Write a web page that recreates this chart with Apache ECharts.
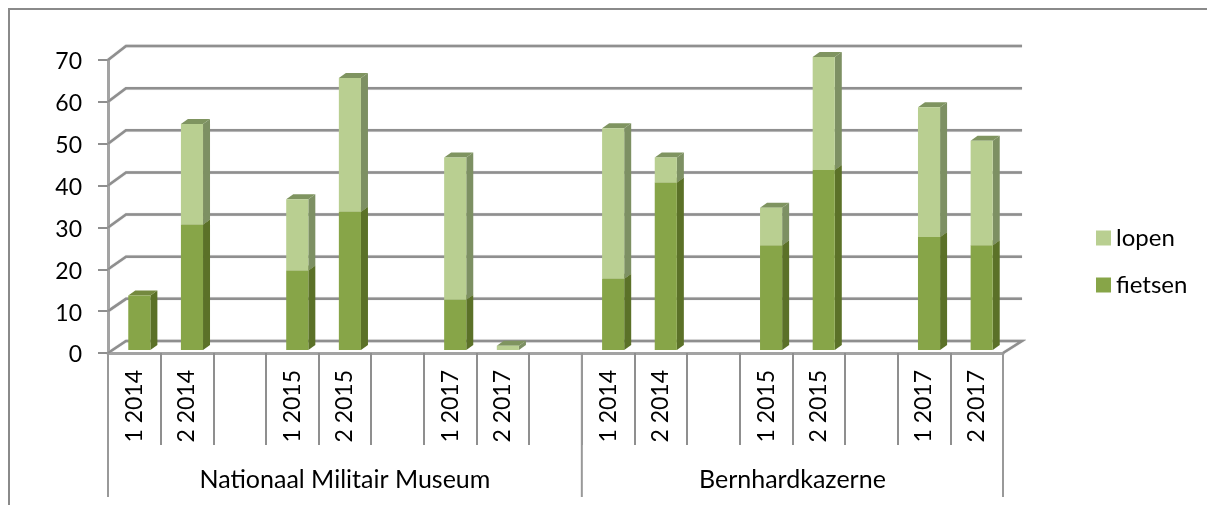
<html lang="nl">
<head>
<meta charset="UTF-8">
<title>lopen en fietsen</title>
<script src="https://cdn.jsdelivr.net/npm/echarts@6/dist/echarts.min.js"></script>
<style>
html,body{margin:0;padding:0;background:#fff;}
</style>
</head>
<body>
<div id="main" style="width:1207px;height:505px;"></div>
<script type="text/javascript">
var categories = ['1 2014','2 2014','','1 2015','2 2015','','1 2017','2 2017','','1 2014','2 2014','','1 2015','2 2015','','1 2017','2 2017'];
var fietsen = [13,30,null,19,33,null,12,0,null,17,40,null,25,43,null,27,25];
var lopen = [0,24,null,17,32,null,34,1,null,36,6,null,9,27,null,31,25];
var groupNames = ['Nationaal Militair Museum','Bernhardkazerne'];
var groupStart = [0,9];
var groupEnd = [8,16];
var yTicks = [0,10,20,30,40,50,60,70];

var FONT = 'Lato';
var GREY = '#8f8f8f';

// stacked segments: [category index, from, to]
var fietsenData = [];
var lopenData = [];
categories.forEach(function(c,i){
	if(fietsen[i]===null) return;
	fietsenData.push([i,0,fietsen[i]]);
	lopenData.push([i,fietsen[i],fietsen[i]+lopen[i]]);
});

// fake 3d column, front face + side + top
function barRender(front,side,top){
	return function(params,api){
		var from = api.value(1), to = api.value(2);
		if(from===to) return null;
		var a = api.coord([api.value(0),from]);
		var b = api.coord([api.value(0),to]);
		var w = api.size([1,0])[0]*0.42;
		var x = a[0]+5-w/2, y0 = a[1]-3, y1 = b[1]-3;
		var d = 7, h = 5;
		return {type:'group',children:[
			{type:'polygon',shape:{points:[[x+w,y0],[x+w+d,y0-h],[x+w+d,y1-h],[x+w,y1]]},style:{fill:side}},
			{type:'polygon',shape:{points:[[x,y1],[x+d,y1-h],[x+w+d,y1-h],[x+w,y1]]},style:{fill:top}},
			{type:'rect',shape:{x:x,y:y1,width:w,height:y0-y1},style:{fill:front}}
		]};
	};
}

// gridlines on the back wall with the diagonal on the side wall
function wallRender(params,api){
	var v = api.value(1);
	var half = api.size([1,0])[0]/2;
	var p = api.coord([0,v]);
	var last = api.coord([categories.length-1,v]);
	var xl = p[0]-half, xr = last[0]+half;
	var dy = 12+v/35;
	var pts = [[xl,p[1]],[xl+18,p[1]-dy],[xr+19,p[1]-dy]];
	if(v===0) pts.push([xr,p[1]]);
	return {type:'polyline',shape:{points:pts},style:{fill:null,stroke:GREY,lineWidth:2.5,shadowBlur:1,shadowColor:'#bbb'}};
}

// lower level of the category axis
function groupRender(params,api){
	var half = api.size([1,0])[0]/2;
	var a = api.coord([api.value(0),0]);
	var b = api.coord([api.value(1),0]);
	var xl = a[0]-half, xr = b[0]+half, y = a[1];
	var kids = [
		{type:'line',shape:{x1:xl,y1:y,x2:xl,y2:y+144},style:{stroke:'#999',lineWidth:2}},
		{type:'text',style:{text:groupNames[params.dataIndex],x:(xl+xr)/2,y:y+127,align:'center',verticalAlign:'middle',font:'25px '+FONT,fill:'#000'}}
	];
	if(params.dataIndex===groupNames.length-1){
		kids.push({type:'line',shape:{x1:xr,y1:y,x2:xr,y2:y+144},style:{stroke:'#999',lineWidth:2}});
	}
	return {type:'group',children:kids};
}

var chart = echarts.init(document.getElementById('main'));
chart.setOption({
	animation:false,
	grid:{left:108,top:60,width:895,height:293},
	graphic:[{type:'polyline',shape:{points:[[9,505],[9,9],[1207,9]]},style:{fill:null,stroke:'#8a8a8a',lineWidth:2}}],
	legend:{
		orient:'vertical',left:1091,top:221,
		icon:'rect',itemWidth:15,itemHeight:15,itemGap:23,
		data:['lopen','fietsen'],
		selectedMode:false,
		textStyle:{fontFamily:FONT,fontSize:24,color:'#000'}
	},
	xAxis:{
		type:'category',data:categories,
		axisLine:{lineStyle:{color:'#a3a3a3',width:3}},
		axisTick:{show:true,interval:0,length:92,lineStyle:{color:GREY,width:2}},
		axisLabel:{interval:0,rotate:90,margin:17,fontFamily:FONT,fontSize:23,color:'#000'}
	},
	yAxis:{
		type:'value',min:0,max:70,interval:10,
		axisLine:{show:true,lineStyle:{color:'#a3a3a3',width:3}},
		axisTick:{show:true,length:10,lineStyle:{color:GREY,width:2}},
		axisLabel:{margin:26,verticalAlign:'top',lineHeight:4,fontFamily:FONT,fontSize:23,color:'#000'},
		splitLine:{show:false}
	},
	series:[
		{type:'custom',z:1,clip:false,silent:true,renderItem:wallRender,encode:{x:0,y:1},
			data:yTicks.map(function(v){return [0,v];})},
		{type:'custom',z:1,clip:false,silent:true,renderItem:groupRender,encode:{x:0,y:2},
			data:groupStart.map(function(s,i){return [s,groupEnd[i],0];})},
		{type:'custom',name:'fietsen',z:3,clip:false,silent:true,itemStyle:{color:'#87a548'},
			renderItem:barRender('#87a548','#5b7128','#74893f'),encode:{x:0,y:2},data:fietsenData},
		{type:'custom',name:'lopen',z:4,clip:false,silent:true,itemStyle:{color:'#b9cf91'},
			renderItem:barRender('#b9cf91','#7d9063','#7f9460'),encode:{x:0,y:2},data:lopenData}
	]
});
</script>
</body>
</html>
